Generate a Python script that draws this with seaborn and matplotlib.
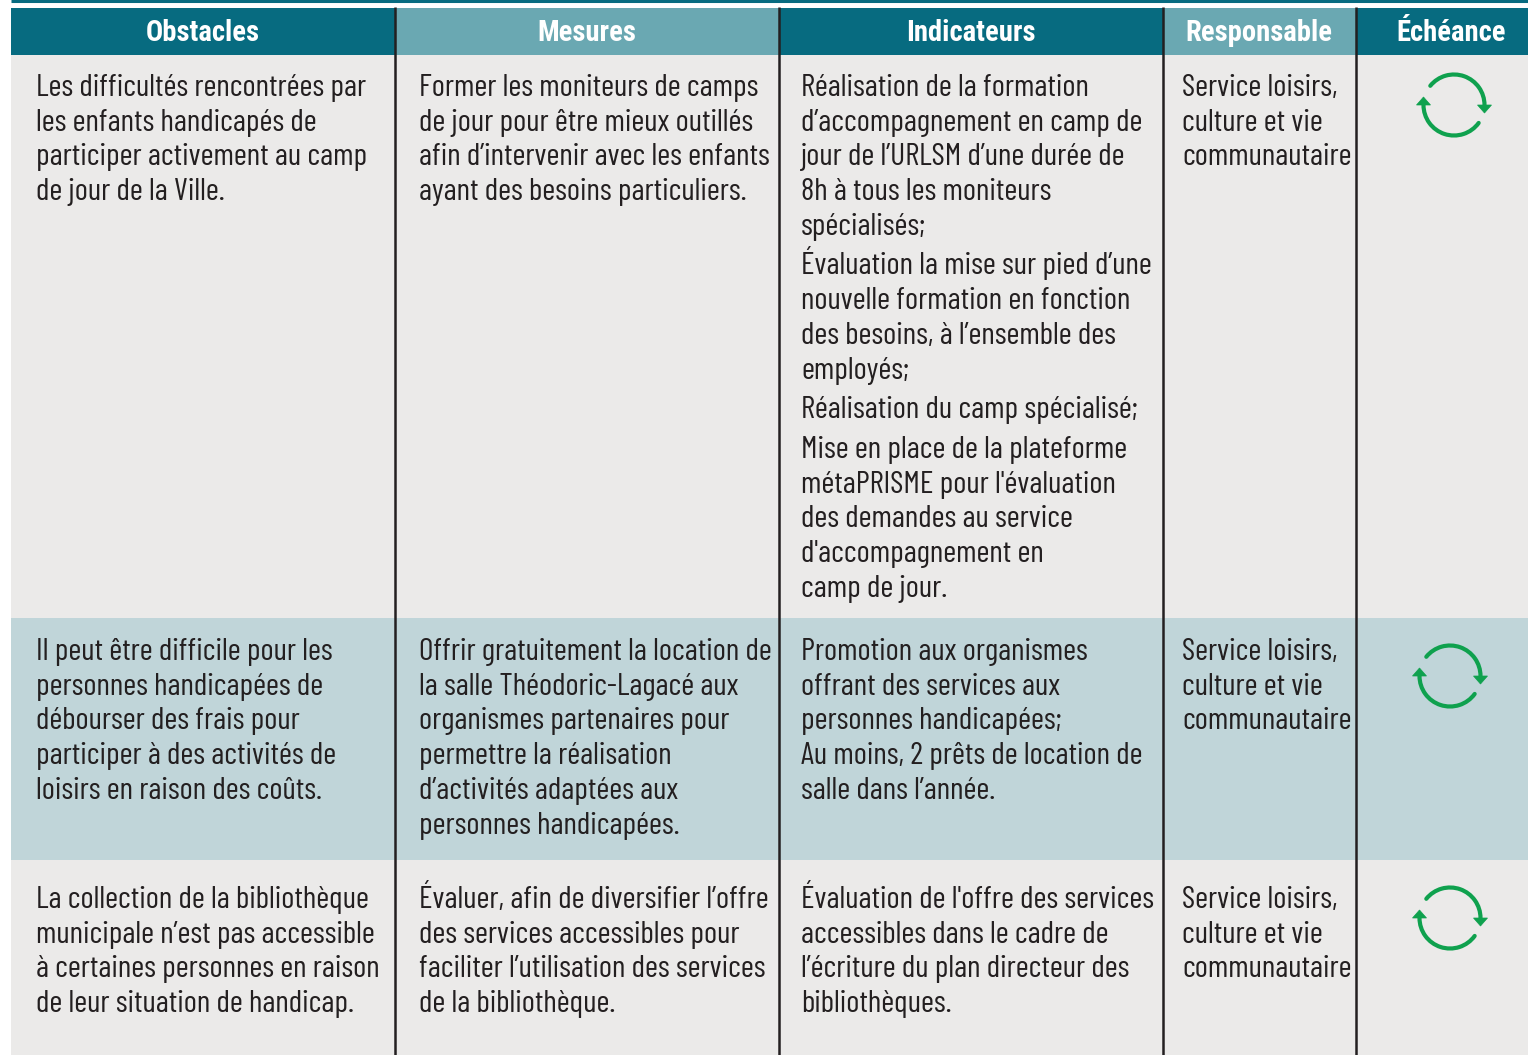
import matplotlib
matplotlib.use('Agg')
import matplotlib.pyplot as plt
from matplotlib.patches import Arc, Polygon
import seaborn as sns

# =====================================================================
# DONNEES
# =====================================================================
entetes = ['Obstacles', 'Mesures', 'Indicateurs', 'Responsable', 'Échéance']

obstacles = [
    ['Les difficultés rencontrées par', 'les enfants handicapés de',
     'participer activement au camp', 'de jour de la Ville.'],
    ['Il peut être difficile pour les', 'personnes handicapées de',
     'débourser des frais pour', 'participer à des activités de',
     'loisirs en raison des coûts.'],
    ['La collection de la bibliothèque', 'municipale n’est pas accessible',
     'à certaines personnes en raison', 'de leur situation de handicap.'],
]
mesures = [
    ['Former les moniteurs de camps', 'de jour pour être mieux outillés',
     'afin d’intervenir avec les enfants', 'ayant des besoins particuliers.'],
    ['Offrir gratuitement la location de', 'la salle Théodoric-Lagacé aux',
     'organismes partenaires pour', 'permettre la réalisation',
     'd’activités adaptées aux', 'personnes handicapées.'],
    ['Évaluer, afin de diversifier l’offre', 'des services accessibles pour',
     'faciliter l’utilisation des services', 'de la bibliothèque.'],
]
# une sous-liste par paragraphe
indicateurs = [
    [['Réalisation de la formation', 'd’accompagnement en camp de',
      'jour de l’URLSM d’une durée de', '8h à tous les moniteurs', 'spécialisés;'],
     ['Évaluation la mise sur pied d’une', 'nouvelle formation en fonction',
      'des besoins, à l’ensemble des', 'employés;'],
     ['Réalisation du camp spécialisé;'],
     ['Mise en place de la plateforme', 'métaPRISME pour l\'évaluation',
      'des demandes au service', 'd\'accompagnement en', 'camp de jour.']],
    [['Promotion aux organismes', 'offrant des services aux',
      'personnes handicapées;', 'Au moins, 2 prêts de location de',
      'salle dans l’année.']],
    [['Évaluation de l\'offre des services', 'accessibles dans le cadre de',
      'l’écriture du plan directeur des', 'bibliothèques.']],
]
responsable = ['Service loisirs,', 'culture et vie', 'communautaire']

# =====================================================================
# MISE EN PAGE (en pixels)
# =====================================================================
bords_col = [11, 395, 779, 1163, 1356, 1528]
bords_lig = [55, 618, 860, 1055]
couleurs_lig = ['#EBEAE9', '#C0D5D9', '#EBEAE9']
couleurs_ent = ['#076B80', '#6AA8B2', '#076B80', '#6AA8B2', '#076B80']
centres_ent = [203, 587, 971, 1259, 1451]
marge_col = [36, 419, 801, 1182]
base_lig = [96, 660, 908]
centres_icone = [(1454, 105), (1450, 676), (1450, 918)]
PAS = 34.7
ECART = 5
VERT = '#0FA14E'
ENCRE = '#231F20'
TAILLE = 22.7

sns.set_theme(style='white')
plt.rcParams['font.family'] = ['Barlow Condensed', 'Roboto Condensed', 'Liberation Sans', 'DejaVu Sans']

fig = plt.figure(figsize=(15.28, 10.55), dpi=100)
ax = fig.add_axes([0, 0, 1, 1])
ax.set_xlim(0, 1528)
ax.set_ylim(1055, 0)
ax.axis('off')

# Fonds
ax.plot([11, 1528], [0.5, 0.5], color='#076B80', lw=2.2, solid_capstyle='butt')
for i in range(5):
    ax.fill_between(bords_col[i:i + 2], 8, 55, color=couleurs_ent[i], lw=0)
    ax.text(centres_ent[i], 41, entetes[i], color='white', family=['Roboto Condensed', 'Liberation Sans'],
            fontsize=20.6, fontweight='bold', ha='center', va='baseline')
for i in range(3):
    ax.fill_between([11, 1528], bords_lig[i], bords_lig[i + 1], color=couleurs_lig[i], lw=0)
for x in bords_col[1:5]:
    ax.plot([x, x], [7, 1055], color=ENCRE, lw=1.8, solid_capstyle='butt')


def ecrire(x, y, lignes):
    for k, ligne in enumerate(lignes):
        ax.text(x, y + k * PAS, ligne, color=ENCRE, fontsize=TAILLE, ha='left', va='baseline')


def icone(cx, cy):
    r = 30.5
    # ordonnees inversees : les angles de Arc tournent dans le sens de l'ecran
    ax.add_patch(Arc((cx, cy), 2 * r, 2 * r, theta1=219, theta2=360, color=VERT, lw=3.0, capstyle='round'))
    ax.add_patch(Arc((cx, cy), 2 * r, 2 * r, theta1=36, theta2=180, color=VERT, lw=3.0, capstyle='round'))
    ax.add_patch(Polygon([(cx + r - 7, cy), (cx + r + 7, cy), (cx + r, cy + 8)], color=VERT, lw=0.5))
    ax.add_patch(Polygon([(cx - r - 7, cy), (cx - r + 7, cy), (cx - r, cy - 8)], color=VERT, lw=0.5))


for i in range(3):
    ecrire(marge_col[0], base_lig[i], obstacles[i])
    ecrire(marge_col[1], base_lig[i], mesures[i])
    decalage = 0
    for paragraphe in indicateurs[i]:
        ecrire(marge_col[2], base_lig[i] + decalage, paragraphe)
        decalage += len(paragraphe) * PAS + ECART
    ecrire(marge_col[3], base_lig[i], responsable)
    icone(*centres_icone[i])

plt.savefig('out.png', dpi=100)
